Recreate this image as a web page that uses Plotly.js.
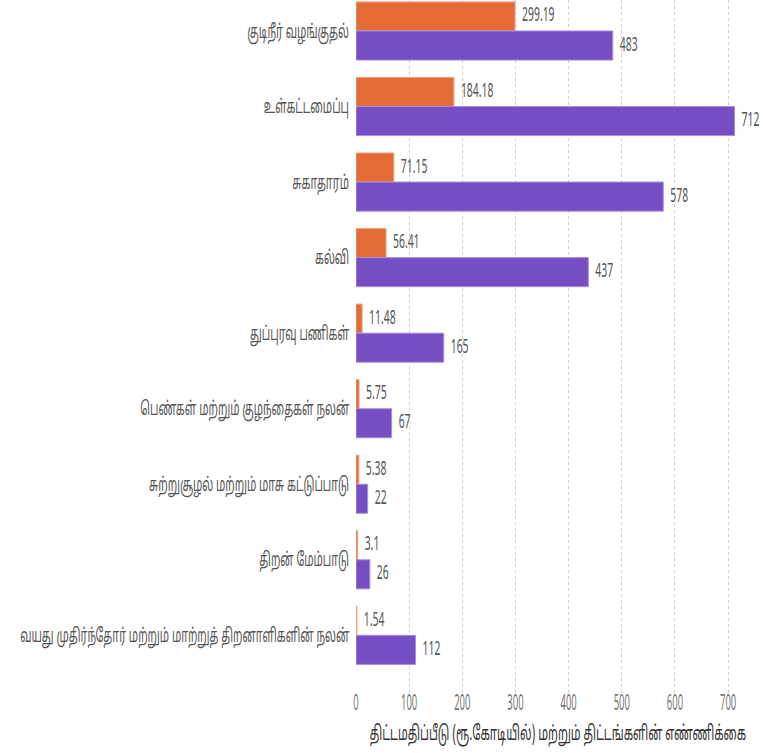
<!DOCTYPE html>
<html>
<head>
<meta charset="utf-8">
<script src="https://cdn.plot.ly/plotly-3.0.1.min.js"></script>
<style>html,body{margin:0;padding:0;background:#fff;}#chart{width:763px;height:753px;}</style>
</head>
<body>
<div id="chart"></div>
<script>
const categories = [
  "குடிநீர் வழங்குதல்",
  "உள்கட்டமைப்பு",
  "சுகாதாரம்",
  "கல்வி",
  "துப்புரவு பணிகள்",
  "பெண்கள் மற்றும் குழந்தைகள் நலன்",
  "சுற்றுசூழல் மற்றும் மாசு கட்டுப்பாடு",
  "திறன் மேம்பாடு",
  "வயது முதிர்ந்தோர் மற்றும் மாற்றுத் திறனாளிகளின் நலன்"
];
const costCrores = [299.19, 184.18, 71.15, 56.41, 11.48, 5.75, 5.38, 3.1, 1.54];
const projectCount = [483, 712, 578, 437, 165, 67, 22, 26, 112];
const xTicks = [0, 100, 200, 300, 400, 500, 600, 700];
const xTitle = "திட்டமதிப்பீடு (ரூ.கோடியில்) மற்றும் திட்டங்களின் எண்ணிக்கை";

const fontFam = "'Noto Sans Tamil', 'Noto Sans', sans-serif";

const traces = [
  {
    type: 'bar', orientation: 'h', name: 'cost',
    y: categories, x: costCrores,
    text: costCrores.map(String), textposition: 'outside', cliponaxis: false, constraintext: 'none',
    textfont: {family: fontFam, size: 20, color: '#555'},
    marker: {color: '#E66C37', line: {color: '#F0A080', width: 1}},
    hoverinfo: 'x+y'
  },
  {
    type: 'bar', orientation: 'h', name: 'count',
    y: categories, x: projectCount,
    text: projectCount.map(String), textposition: 'outside', cliponaxis: false, constraintext: 'none',
    textfont: {family: fontFam, size: 20, color: '#555'},
    marker: {color: '#744EC2', line: {color: '#A58FE0', width: 1}},
    hoverinfo: 'x+y'
  }
];

const layout = {
  width: 763, height: 753,
  margin: {l: 356, r: 3, t: 0, b: 58},
  paper_bgcolor: '#fff', plot_bgcolor: '#fff',
  showlegend: false,
  barmode: 'group', bargap: 0.23, bargroupgap: 0,
  font: {family: fontFam, color: '#666'},
  xaxis: {
    range: [0, 760], tickvals: xTicks, ticktext: xTicks.map(String),
    showgrid: true, gridcolor: '#d0d0d0', griddash: 'dot', gridwidth: 1,
    zeroline: false, showline: false, ticklabelstandoff: -7,
    tickfont: {family: fontFam, size: 21, color: '#777'},
    title: {text: xTitle, font: {family: fontFam, size: 20, color: '#333'}, standoff: 9}
  },
  yaxis: {
    type: 'category', range: [8.79, -0.41],
    showgrid: false, zeroline: false, showline: false,
    ticks: '', ticklabelstandoff: 6,
    tickfont: {family: fontFam, size: 19, color: '#555'}
  }
};

function squeeze(el, sx, anchor, dx) {
  const b = el.getBBox();
  const ax = anchor === 'left' ? b.x : anchor === 'right' ? b.x + b.width : b.x + b.width / 2;
  const t = el.getAttribute('transform') || '';
  el.setAttribute('transform', t + ' translate(' + (ax + (dx || 0)) + ',0) scale(' + sx + ',1) translate(' + (-ax) + ',0)');
}

Plotly.newPlot('chart', traces, layout, {displayModeBar: false, staticPlot: true}).then(function (gd) {
  gd.querySelectorAll('g.ytick text').forEach(function (el) { squeeze(el, 0.57, 'right'); });
  gd.querySelectorAll('g.xtick text').forEach(function (el) { squeeze(el, 0.45, 'center'); });
  gd.querySelectorAll('text.bartext').forEach(function (el) { squeeze(el, 0.52, 'left', 4); });
  gd.querySelectorAll('.g-xtitle text').forEach(function (el) { squeeze(el, 0.57, 'center'); });
});
</script>
</body>
</html>
